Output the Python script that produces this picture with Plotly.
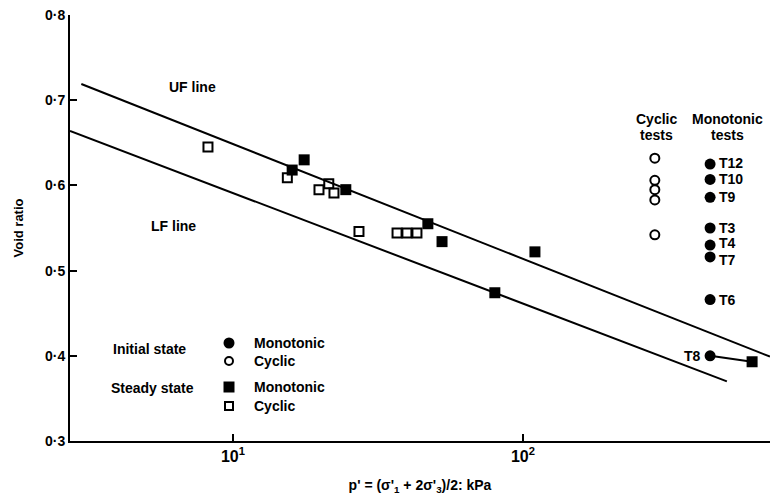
import math
import plotly.graph_objects as go

# Steady state, cyclic (open squares)
ss_cyc_p = [8.2, 15.4, 19.8, 21.4, 22.3, 27.2, 36.8, 39.8, 43.1]
ss_cyc_e = [0.645, 0.609, 0.595, 0.602, 0.591, 0.546, 0.544, 0.544, 0.544]
# Steady state, monotonic (filled squares)
ss_mono_p = [16.0, 17.6, 24.5, 47.0, 52.6, 110, 80, 617]
ss_mono_e = [0.618, 0.630, 0.595, 0.555, 0.534, 0.522, 0.474, 0.393]
# Initial state, cyclic tests (open circles)
init_cyc_p = [285, 285, 285, 285, 285]
init_cyc_e = [0.632, 0.606, 0.595, 0.583, 0.542]
# Initial state, monotonic tests (filled circles)
init_mono_p = [442, 442, 442, 442, 442, 442, 442, 442]
init_mono_e = [0.625, 0.607, 0.586, 0.550, 0.530, 0.516, 0.466, 0.400]
init_mono_lab = ["T12", "T10", "T9", "T3", "T4", "T7", "T6", "T8"]
# Flow lines
uf_p = [3.0, 711]
uf_e = [0.719, 0.399]
lf_p = [2.74, 505]
lf_e = [0.664, 0.370]
# T8 path (initial -> steady)
t8_p = [442, 617]
t8_e = [0.400, 0.393]

FONT = "Liberation Sans, Arial, sans-serif"
fig = go.Figure()
line_style = dict(color="black", width=2)
fig.add_trace(go.Scatter(x=uf_p, y=uf_e, mode="lines", line=line_style))
fig.add_trace(go.Scatter(x=lf_p, y=lf_e, mode="lines", line=line_style))
fig.add_trace(go.Scatter(x=t8_p, y=t8_e, mode="lines", line=line_style))
fig.add_trace(go.Scatter(x=ss_cyc_p, y=ss_cyc_e, mode="markers",
                         marker=dict(symbol="square-open", size=9, color="black",
                                     line=dict(width=2, color="black"))))
fig.add_trace(go.Scatter(x=ss_mono_p, y=ss_mono_e, mode="markers",
                         marker=dict(symbol="square", size=11, color="black")))
fig.add_trace(go.Scatter(x=init_cyc_p, y=init_cyc_e, mode="markers",
                         marker=dict(symbol="circle-open", size=9, color="black",
                                     line=dict(width=2, color="black"))))
fig.add_trace(go.Scatter(x=init_mono_p, y=init_mono_e, mode="markers",
                         marker=dict(symbol="circle", size=11, color="black")))

ann = []
# point labels for monotonic tests (small vertical nudges keep them legible)
nudges = [1, 0, 0, 0, 2, -3, 0, 0]
for p, e, lab, dy in zip(init_mono_p, init_mono_e, init_mono_lab, nudges):
    left = lab == "T8"
    ann.append(dict(x=math.log10(p), y=e, xref="x", yref="y", text=lab, showarrow=False,
                    xanchor="right" if left else "left", yanchor="middle",
                    xshift=-7 if left else 7, yshift=dy,
                    font=dict(size=14, color="black", family=FONT, weight="bold")))

W, H = 700, 426
def px(x, y):
    return ((x - 70) / W, 1 - (y - 15) / H)

def txt(x, y, s, xanchor="center", size=14):
    xx, yy = px(x, y)
    ann.append(dict(x=xx, y=yy, xref="paper", yref="paper", text=s, showarrow=False,
                    xanchor=xanchor, yanchor="middle",
                    font=dict(size=size, color="black", family=FONT, weight="bold")))

for (x, y, s, xa) in [
    (192, 87, "UF line", "center"),
    (173, 226, "LF line", "center"),
    (111, 349, "Initial state", "left"),
    (109, 388, "Steady state", "left"),
    (656, 119, "Cyclic", "center"),
    (656, 135, "tests", "center"),
    (727, 119, "Monotonic", "center"),
    (727, 135, "tests", "center"),
    (252, 343, "Monotonic", "left"),
    (252, 361, "Cyclic", "left"),
    (252, 387, "Monotonic", "left"),
    (252, 406, "Cyclic", "left"),
]:
    txt(x, y, s, xa)

# legend keys
shapes = []
def key(x, y, kind, filled, r):
    xx, yy = px(x, y)
    shapes.append(dict(type=kind, xref="paper", yref="paper",
                       xsizemode="pixel", ysizemode="pixel", xanchor=xx, yanchor=yy,
                       x0=-r, x1=r, y0=-r, y1=r,
                       fillcolor="black" if filled else "white",
                       line=dict(color="black", width=0 if filled else 2)))
key(229, 343, "circle", True, 5.5)
key(229, 361, "circle", False, 4)
key(229, 387, "rect", True, 5.5)
key(229, 406, "rect", False, 4)

fig.update_layout(
    width=770, height=501,
    margin=dict(l=70, r=0, t=15, b=60),
    paper_bgcolor="white", plot_bgcolor="white",
    showlegend=False,
    font=dict(family=FONT, size=14, color="black", weight="bold"),
    annotations=ann, shapes=shapes,
    xaxis=dict(type="log", range=[0.438, 2.852], showgrid=False, zeroline=False,
               showline=True, linecolor="black", linewidth=2,
               ticks="inside", ticklen=7, tickwidth=1.5, tickcolor="black",
               tickvals=[10, 100], ticktext=["10<sup>1</sup>", "10<sup>2</sup>"],
               tickfont=dict(size=16, weight="bold"),
               title=dict(text="p' = (σ'<sub>1</sub> + 2σ'<sub>3</sub>)/2: kPa",
                          font=dict(size=14, weight="bold"), standoff=16)),
    yaxis=dict(range=[0.3, 0.8], showgrid=False, zeroline=False,
               showline=True, linecolor="black", linewidth=2,
               ticks="inside", ticklen=7, tickwidth=1.5, tickcolor="black",
               tickvals=[0.3, 0.4, 0.5, 0.6, 0.7, 0.8],
               ticktext=["0·3", "0·4", "0·5", "0·6", "0·7", "0·8"],
               tickfont=dict(size=14, weight="bold"),
               title=dict(text="Void ratio", font=dict(size=13, weight="bold"), standoff=18)),
)

fig.write_html("out.html")
